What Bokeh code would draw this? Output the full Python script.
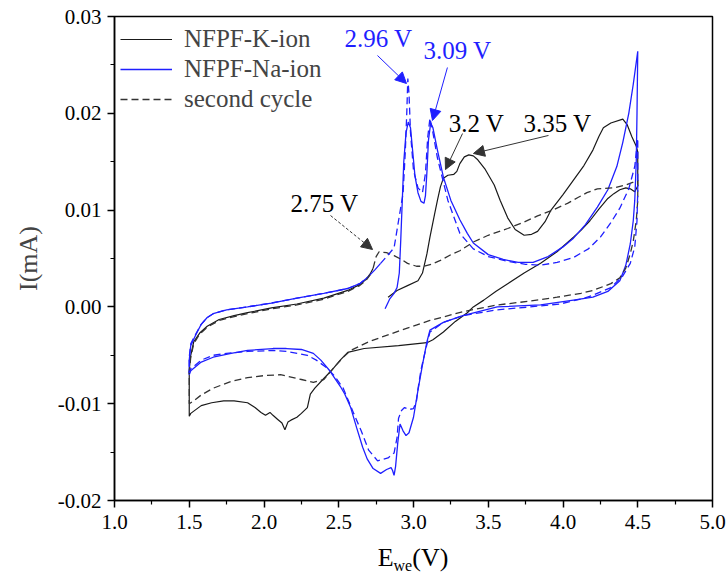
from bokeh.plotting import figure
from bokeh.layouts import column
from bokeh.models import (Legend, LegendItem, Label, Arrow, NormalHead, FixedTicker,
                          PrintfTickFormatter, Range1d, Div)
from bokeh.embed import file_html
from bokeh.resources import INLINE

# ---------------- data ----------------
# NFPF-K-ion, first cycle (black solid)
k1_v = [2.83, 2.89, 2.96, 3.03, 3.06, 3.09, 3.11, 3.14, 3.16, 3.18, 3.20, 3.23, 3.27, 3.29, 3.31,
        3.34, 3.37, 3.40, 3.43, 3.48, 3.54, 3.58, 3.63, 3.68, 3.74, 3.79, 3.83, 3.88, 3.92, 4.00,
        4.07, 4.14, 4.20, 4.24, 4.27, 4.32, 4.40, 4.43, 4.46, 4.49, 4.50,
        4.50, 4.48, 4.45, 4.42, 4.38, 4.34, 4.30, 4.24, 4.18, 4.12, 4.07, 3.96, 3.85, 3.74, 3.63,
        3.55, 3.47, 3.40, 3.36, 3.28, 3.20, 3.13, 3.09, 2.90, 2.67, 2.56, 2.51, 2.45, 2.40, 2.34,
        2.31, 2.29, 2.25, 2.22, 2.18, 2.16, 2.14, 2.12, 2.09, 2.06, 2.04, 2.01, 1.98, 1.94, 1.89,
        1.80, 1.73, 1.65, 1.58, 1.51, 1.50,
        1.50, 1.51, 1.53, 1.57, 1.62, 1.70, 1.80, 1.89, 2.05, 2.22, 2.40, 2.56, 2.64, 2.68, 2.71, 2.73]
k1_i = [0.0010, 0.0017, 0.0022, 0.0027, 0.0035, 0.0055, 0.0072, 0.0095, 0.0110, 0.0124, 0.0133,
        0.0136, 0.0137, 0.0140, 0.0148, 0.0155, 0.0157, 0.0156, 0.0152, 0.0142, 0.0126, 0.0110,
        0.0092, 0.0080, 0.0074, 0.0075, 0.0078, 0.0088, 0.0100, 0.0116, 0.0131, 0.0146, 0.0162,
        0.0176, 0.0185, 0.0190, 0.0194, 0.0188, 0.0176, 0.0166, 0.0160,
        0.0125, 0.0119, 0.0122, 0.0123, 0.0121, 0.0117, 0.0112, 0.0101, 0.0089, 0.0079, 0.0072,
        0.0057, 0.0045, 0.0035, 0.0024, 0.0016, 0.0007, 0.0000, -0.0006, -0.0015, -0.0026,
        -0.0034, -0.0037, -0.0040, -0.0043, -0.0047, -0.0055, -0.0066, -0.0074, -0.0084, -0.0090,
        -0.0104, -0.0110, -0.0114, -0.0117, -0.0119, -0.0127, -0.0120, -0.0116, -0.0112, -0.0109,
        -0.0112, -0.0109, -0.0104, -0.0099, -0.0097, -0.0097, -0.0099, -0.0102, -0.0110, -0.0113,
        -0.0065, -0.0050, -0.0036, -0.0027, -0.0020, -0.0013, -0.0009, -0.0006, -0.0001, 0.0003,
        0.0009, 0.0017, 0.0023, 0.0028, 0.0034, 0.0040]

# NFPF-K-ion, second cycle (black dashed)
k2_v = [2.73, 2.75, 2.77, 2.82, 2.87, 2.92, 2.96, 3.02, 3.07, 3.12, 3.18, 3.25, 3.31, 3.40, 3.50,
        3.63, 3.73, 3.83, 3.93, 4.03, 4.10, 4.16, 4.23, 4.34, 4.42, 4.47, 4.50,
        4.50, 4.49, 4.47, 4.45, 4.42, 4.38, 4.32, 4.20, 4.12, 3.96, 3.78, 3.56, 3.33, 3.11, 2.90,
        2.70, 2.58, 2.53, 2.46, 2.40, 2.33, 2.25, 2.11, 2.00, 1.89, 1.78, 1.66, 1.58, 1.53, 1.50,
        1.50, 1.51, 1.53, 1.57, 1.62, 1.70, 1.80, 1.89, 2.05, 2.22, 2.40, 2.56, 2.64, 2.68, 2.71]
k2_i = [0.0040, 0.0052, 0.0057, 0.0056, 0.0053, 0.0049, 0.0045, 0.0042, 0.0042, 0.0044, 0.0048,
        0.0054, 0.0058, 0.0067, 0.0074, 0.0081, 0.0087, 0.0094, 0.0100, 0.0107, 0.0113, 0.0118,
        0.0122, 0.0123, 0.0126, 0.0129, 0.0131,
        0.0110, 0.0089, 0.0068, 0.0055, 0.0040, 0.0030, 0.0024, 0.0017, 0.0014, 0.0010, 0.0006,
        0.0002, -0.0005, -0.0014, -0.0025, -0.0036, -0.0045, -0.0052, -0.0064, -0.0075, -0.0078,
        -0.0075, -0.0070, -0.0071, -0.0073, -0.0077, -0.0084, -0.0091, -0.0097, -0.0100,
        -0.0068, -0.0052, -0.0038, -0.0028, -0.0021, -0.0014, -0.0010, -0.0007, -0.0002, 0.0002,
        0.0008, 0.0016, 0.0022, 0.0027, 0.0033]

# NFPF-Na-ion, first cycle (blue solid)
n1_v = [2.81, 2.84, 2.87, 2.89, 2.905, 2.915, 2.925, 2.935, 2.95, 2.965, 2.98, 2.995, 3.01, 3.03,
        3.05, 3.07, 3.08, 3.09, 3.10, 3.115, 3.13, 3.16, 3.20, 3.25, 3.31, 3.36, 3.40, 3.50, 3.60,
        3.70, 3.80, 3.90, 4.00, 4.07, 4.15, 4.23, 4.30, 4.36, 4.40, 4.44, 4.47, 4.50,
        4.495, 4.49, 4.48, 4.47, 4.45, 4.42, 4.38, 4.30, 4.20, 4.07, 3.85, 3.56, 3.33, 3.20, 3.11,
        3.09, 3.06, 3.03, 3.00, 2.97, 2.95, 2.93, 2.91, 2.895, 2.88, 2.87, 2.86, 2.85, 2.82, 2.78,
        2.73, 2.69, 2.66, 2.62, 2.58, 2.54, 2.51, 2.44, 2.38, 2.33, 2.25, 2.15, 2.06, 1.89, 1.78,
        1.66, 1.58, 1.51, 1.50,
        1.50, 1.51, 1.54, 1.58, 1.62, 1.66, 1.75, 1.89, 2.05, 2.22, 2.40, 2.56, 2.64, 2.69, 2.74, 2.78]
n1_i = [-0.0002, 0.0008, 0.0014, 0.0020, 0.0035, 0.0070, 0.0110, 0.0150, 0.0180, 0.0191, 0.0185,
        0.0160, 0.0135, 0.0118, 0.0109, 0.0107, 0.0115, 0.0140, 0.0172, 0.0190, 0.0185, 0.0162,
        0.0134, 0.0110, 0.0090, 0.0076, 0.0066, 0.0054, 0.0049, 0.0046, 0.0046, 0.0052, 0.0062,
        0.0071, 0.0085, 0.0103, 0.0121, 0.0145, 0.0170, 0.0200, 0.0230, 0.0264,
        0.0200, 0.0150, 0.0110, 0.0089, 0.0065, 0.0043, 0.0027, 0.0016, 0.0010, 0.0007, 0.0002,
        0.0000, -0.0009, -0.0016, -0.0024, -0.0036, -0.0060, -0.0086, -0.0114, -0.0130, -0.0133,
        -0.0128, -0.0121, -0.0140, -0.0165, -0.0174, -0.0169, -0.0166, -0.0168, -0.0172, -0.0167,
        -0.0157, -0.0145, -0.0125, -0.0104, -0.0090, -0.0082, -0.0066, -0.0055, -0.0048, -0.0044,
        -0.0043, -0.0043, -0.0045, -0.0048, -0.0052, -0.0057, -0.0066, -0.0070,
        -0.0055, -0.0040, -0.0030, -0.0018, -0.0011, -0.0007, -0.0003, 0.0000, 0.0004, 0.0009,
        0.0014, 0.0019, 0.0024, 0.0030, 0.0038, 0.0045]

# NFPF-Na-ion, second cycle (blue dashed)
n2_v = [2.78, 2.82, 2.87, 2.90, 2.93, 2.945, 2.955, 2.962, 2.97, 2.98, 3.00, 3.03, 3.06, 3.08,
        3.095, 3.11, 3.13, 3.16, 3.23, 3.31, 3.40, 3.50, 3.63, 3.75, 3.85, 3.96, 4.07, 4.17, 4.25,
        4.32, 4.38, 4.44, 4.48, 4.50,
        4.50, 4.495, 4.48, 4.45, 4.40, 4.32, 4.20, 4.14, 3.98, 3.78, 3.56, 3.33, 3.20, 3.11, 3.08,
        3.05, 3.03, 3.02, 3.00, 2.97, 2.94, 2.92, 2.90, 2.89, 2.87, 2.83, 2.76, 2.70, 2.65, 2.60,
        2.53, 2.47, 2.42, 2.35, 2.29, 2.15, 2.06, 1.89, 1.75, 1.66, 1.58, 1.51, 1.50,
        1.50, 1.51, 1.54, 1.58, 1.62, 1.66, 1.75, 1.89, 2.05, 2.22, 2.40, 2.56, 2.64, 2.69]
n2_i = [0.0045, 0.0052, 0.0061, 0.0089, 0.0117, 0.0160, 0.0200, 0.0236, 0.0220, 0.0180, 0.0141,
        0.0123, 0.0118, 0.0138, 0.0175, 0.0195, 0.0180, 0.0154, 0.0110, 0.0076, 0.0060, 0.0052,
        0.0047, 0.0044, 0.0043, 0.0046, 0.0051, 0.0060, 0.0072, 0.0087, 0.0102, 0.0122, 0.0145,
        0.0174,
        0.0120, 0.0089, 0.0062, 0.0045, 0.0032, 0.0020, 0.0012, 0.0009, 0.0003, 0.0000, -0.0003,
        -0.0009, -0.0016, -0.0026, -0.0045, -0.0065, -0.0085, -0.0097, -0.0105, -0.0106, -0.0104,
        -0.0107, -0.0115, -0.0135, -0.0151, -0.0156, -0.0159, -0.0148, -0.0128, -0.0110, -0.0084,
        -0.0071, -0.0063, -0.0055, -0.0050, -0.0046, -0.0045, -0.0046, -0.0048, -0.0050, -0.0055,
        -0.0064, -0.0068,
        -0.0052, -0.0038, -0.0029, -0.0018, -0.0011, -0.0007, -0.0003, 0.0000, 0.0004, 0.0009,
        0.0014, 0.0019, 0.0024, 0.0030]

x_ticks = [1.0, 1.5, 2.0, 2.5, 3.0, 3.5, 4.0, 4.5, 5.0]
y_ticks = [-0.02, -0.01, 0.0, 0.01, 0.02, 0.03]

legend_labels = ["NFPF-K-ion", "NFPF-Na-ion", "second cycle"]

# peak annotations: text, text position, arrow start, arrow end
peak_texts = ["2.96 V", "3.09 V", "3.2 V", "3.35 V", "2.75 V"]
peak_text_x = [2.766, 3.294, 3.421, 3.963, 2.405]
peak_text_y = [0.02773, 0.02649, 0.01895, 0.01895, 0.01068]
arrow_x0 = [2.759, 3.227, 3.328, 3.903, 2.445]
arrow_y0 = [0.02597, 0.02473, 0.01791, 0.01771, 0.00944]
arrow_x1 = [2.953, 3.127, 3.214, 3.401, 2.726]
arrow_y1 = [0.02308, 0.01926, 0.01419, 0.01585, 0.00593]

FONT = "Liberation Serif"
BLUE = "#1f1fff"
BLACK = "#1a1a1a"
DASHBLACK = "#333333"

p = figure(width=726, height=545, output_backend="svg", toolbar_location=None,
           x_range=Range1d(1.0, 5.0), y_range=Range1d(-0.02, 0.03),
           min_border_left=114, min_border_right=14, min_border_top=16, min_border_bottom=45)
p.grid.visible = False
p.outline_line_color = "black"
p.outline_line_width = 1.5

r_k1 = p.line(k1_v, k1_i, line_color=BLACK, line_width=1.2)
r_n1 = p.line(n1_v, n1_i, line_color=BLUE, line_width=1.3)
r_k2 = p.line(k2_v, k2_i, line_color=DASHBLACK, line_width=1.3, line_dash="7 4")
r_n2 = p.line(n2_v, n2_i, line_color=BLUE, line_width=1.3, line_dash="7 4")

legend = Legend(items=[LegendItem(label=legend_labels[0], renderers=[r_k1]),
                       LegendItem(label=legend_labels[1], renderers=[r_n1]),
                       LegendItem(label=legend_labels[2], renderers=[r_k2])],
                location=(6, 386), margin=0, padding=8, spacing=0,
                label_height=30, glyph_height=30, glyph_width=52, label_standoff=12,
                label_text_font=FONT, label_text_font_size="25px",
                border_line_color=None, background_fill_alpha=0)
p.add_layout(legend)

# axes
for ax in (p.xaxis[0], p.yaxis[0]):
    ax.axis_line_width = 1.5
    ax.major_tick_line_width = 1.5
    ax.minor_tick_line_width = 1.2
    ax.major_tick_out = 7
    ax.major_tick_in = 0
    ax.minor_tick_out = 4
    ax.minor_tick_in = 0
    ax.major_label_text_font = FONT
    ax.major_label_text_font_size = "21px"
    ax.major_label_text_color = "black"
    ax.axis_label_text_font = FONT
    ax.axis_label_text_font_style = "normal"

p.xaxis.ticker = FixedTicker(ticks=x_ticks, minor_ticks=[1.25, 1.75, 2.25, 2.75, 3.25, 3.75, 4.25, 4.75])
p.yaxis.ticker = FixedTicker(ticks=y_ticks, minor_ticks=[-0.015, -0.005, 0.005, 0.015, 0.025])
p.xaxis.formatter = PrintfTickFormatter(format="%.1f")
p.yaxis.formatter = PrintfTickFormatter(format="%.2f")
p.xaxis.major_label_standoff = 7
p.yaxis.major_label_standoff = 6
p.yaxis.axis_label = "I(mA)"
p.yaxis.axis_label_text_font_size = "26px"
p.yaxis.axis_label_standoff = 12

# peak annotations
ann_colors = [BLUE, BLUE, "#333333", "#333333", "#333333"]
ann_text_colors = [BLUE, BLUE, "black", "black", "black"]
ann_dash = ["solid", "solid", "solid", "solid", "3 2"]
for i in range(len(peak_texts)):
    p.add_layout(Label(x=peak_text_x[i], y=peak_text_y[i], text=peak_texts[i], text_font=FONT,
                       text_font_size="25px", text_color=ann_text_colors[i],
                       text_align="center", text_baseline="middle"))
    head = NormalHead(size=11, fill_color=ann_colors[i], line_color=ann_colors[i], line_width=1)
    p.add_layout(Arrow(end=head, x_start=arrow_x0[i], y_start=arrow_y0[i],
                       x_end=arrow_x1[i], y_end=arrow_y1[i], line_color=ann_colors[i],
                       line_width=1, line_dash=ann_dash[i]))

# x axis title with subscript (E_we(V)), centred under the frame
xlabel = Div(
    text=('<div style="position:relative; width:826px; text-align:center; '
          'font-family:\'Liberation Serif\'; font-size:26px; line-height:26px; color:black; '
          'white-space:nowrap;">E<span style="font-size:16px; position:relative; top:5px;">we</span>(V)</div>'),
    width=726, height=33, margin=0)

layout = column(p, xlabel, spacing=0)

open("out.html", "w").write(file_html(layout, INLINE))
